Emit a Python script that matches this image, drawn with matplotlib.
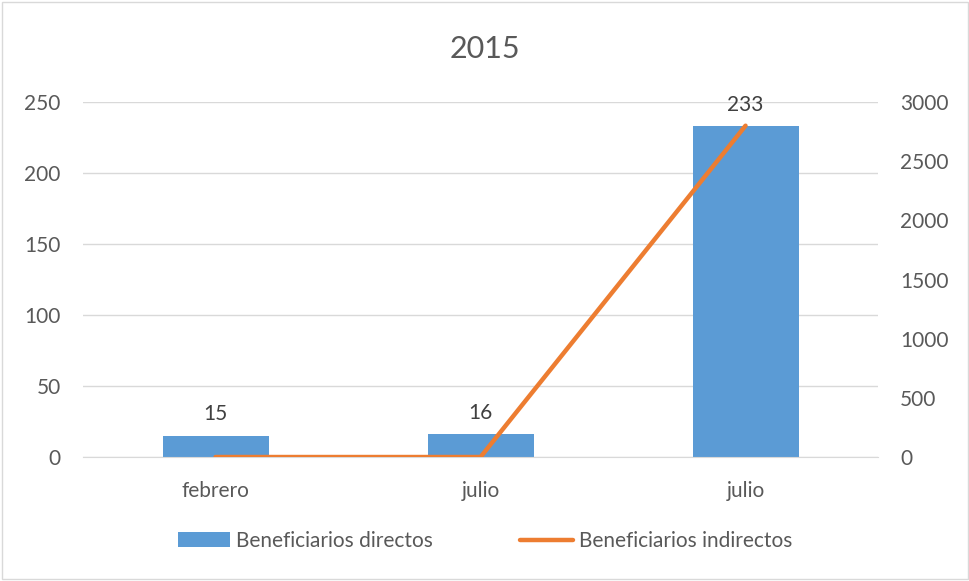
import matplotlib.pyplot as plt
from matplotlib.patches import Rectangle

plt.rcParams['font.family'] = ['Lato', 'DejaVu Sans']

categories = ['febrero', 'julio', 'julio']
directos = [15, 16, 233]
indirectos = [0, 0, 2800]
title = '2015'

bar_color = '#5B9BD5'
line_color = '#ED7D31'
text_color = '#595959'
grid_color = '#D9D9D9'

fig = plt.figure(figsize=(9.7, 5.81), dpi=100)
ax = fig.add_axes([0.0856, 0.2134, 0.8196, 0.611])
ax2 = ax.twinx()

x = list(range(len(categories)))
bars = ax.bar(x, directos, width=0.4, color=bar_color, label='Beneficiarios directos', zorder=2)
ax2.plot(x, indirectos, color=line_color, lw=3.2, solid_capstyle='round',
         label='Beneficiarios indirectos', zorder=3)

for xi, v in zip(x, directos):
    ax.text(xi, v + 8, str(v), ha='center', va='bottom', fontsize=15, color='#404040')

ax.set_xlim(-0.5, 2.5)
ax.set_ylim(0, 250)
ax2.set_ylim(0, 3000)
ax.set_yticks(range(0, 251, 50))
ax2.set_yticks(range(0, 3001, 500))
ax.set_xticks(x)
ax.set_xticklabels(categories)

ax.yaxis.grid(True, color=grid_color, lw=1, zorder=0)
ax.set_axisbelow(True)
for a in (ax, ax2):
    for s in a.spines.values():
        s.set_visible(False)
    a.tick_params(length=0, labelsize=15, colors=text_color)
ax.spines['bottom'].set_visible(True)
ax.spines['bottom'].set_color(grid_color)
ax.tick_params(axis='y', pad=16)
ax.tick_params(axis='x', pad=17)
ax2.tick_params(axis='y', pad=16)

fig.text(0.5, 0.915, title, ha='center', va='center', fontsize=22, color=text_color)

h1, l1 = ax.get_legend_handles_labels()
h2, l2 = ax2.get_legend_handles_labels()
leg = fig.legend(h1 + h2, l1 + l2, loc='center', bbox_to_anchor=(0.5, 0.069), ncol=2,
                 frameon=False, fontsize=15, handlelength=2.5, columnspacing=4.2, handletextpad=0.3)
for t in leg.get_texts():
    t.set_color(text_color)

fig.patches.append(Rectangle((0.002, 0.003), 0.996, 0.994, transform=fig.transFigure,
                             fill=False, edgecolor=grid_color, lw=1))

fig.savefig('out.png', dpi=100)
